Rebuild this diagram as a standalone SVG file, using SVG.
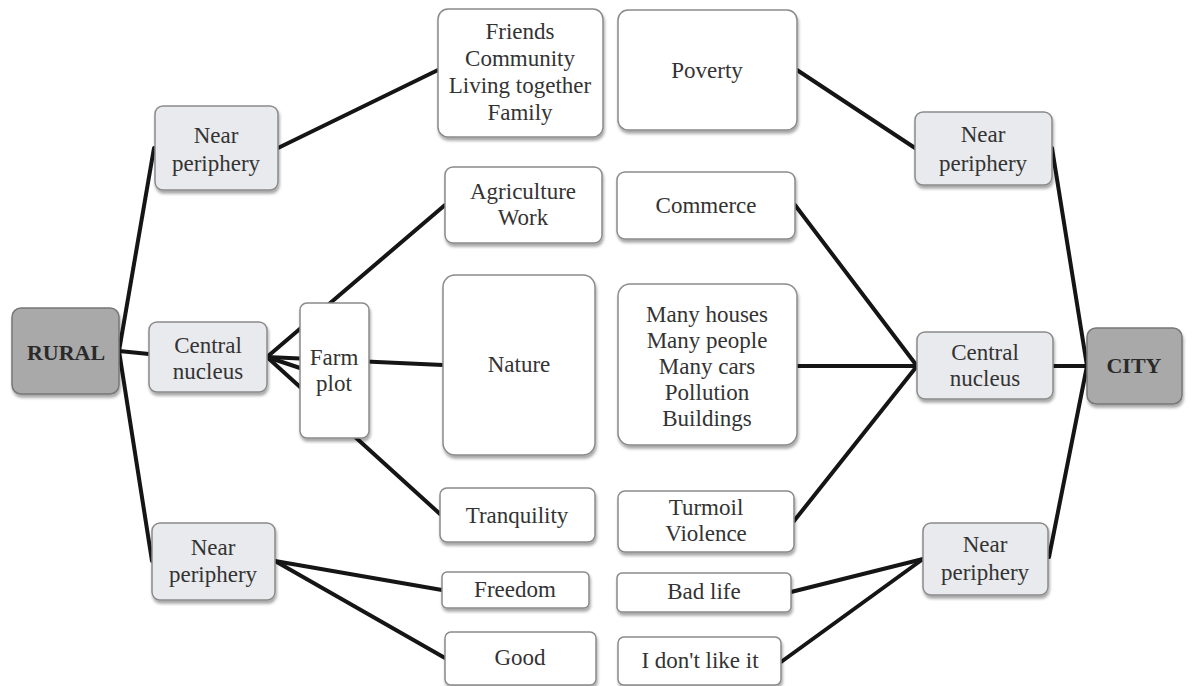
<svg xmlns="http://www.w3.org/2000/svg" width="1194" height="686" viewBox="0 0 1194 686" font-family="'Liberation Serif', 'DejaVu Serif', serif">
<defs>
<filter id="sh" x="-10%" y="-10%" width="130%" height="130%">
<feDropShadow dx="1" dy="3" stdDeviation="1.5" flood-color="#000" flood-opacity="0.35"/>
</filter>
<style>
.n rect{stroke:#8a8a8a;stroke-width:1.5;filter:url(#sh)}
.w rect{fill:#ffffff}
.g rect{fill:#e9eaed}
.d rect{fill:#a9a9a9;stroke:#777}
text{font-family:'Liberation Serif','DejaVu Serif',serif;font-size:23px;fill:#333;text-anchor:middle}
.b text{font-weight:bold;fill:#2a2a2a;font-size:22px}
#connectors line{stroke:#151515;stroke-width:4;stroke-linecap:round}
</style>
</defs>
<rect width="1194" height="686" fill="#ffffff"/>
<g id="connectors">
<line x1="119" y1="351" x2="154" y2="148"/>
<line x1="119" y1="351" x2="149" y2="354"/>
<line x1="119" y1="351" x2="152" y2="561"/>
<line x1="278" y1="148" x2="438" y2="70"/>
<line x1="267" y1="357" x2="445" y2="205"/>
<line x1="267" y1="357" x2="443" y2="365"/>
<line x1="267" y1="357" x2="300" y2="368"/>
<line x1="267" y1="357" x2="440" y2="514"/>
<line x1="275" y1="561" x2="442" y2="590"/>
<line x1="275" y1="561" x2="445" y2="658"/>
<line x1="797" y1="70" x2="915" y2="148"/>
<line x1="1052" y1="148" x2="1087" y2="366"/>
<line x1="795" y1="205" x2="917" y2="366"/>
<line x1="797" y1="366" x2="917" y2="366"/>
<line x1="794" y1="521" x2="917" y2="366"/>
<line x1="1053" y1="366" x2="1087" y2="366"/>
<line x1="1087" y1="366" x2="1049" y2="557"/>
<line x1="791" y1="592" x2="923" y2="559"/>
<line x1="781" y1="662" x2="923" y2="559"/>
</g>
<g id="rural" class="n d b"><rect x="12" y="308" width="107" height="86" rx="9"/><text x="66" y="360">RURAL</text></g>
<g id="city" class="n d b"><rect x="1087" y="328" width="95" height="76" rx="9"/><text x="1134" y="373">CITY</text></g>
<g id="rural-near-top" class="n g"><rect x="155" y="106" width="123" height="84" rx="8"/><text x="216" y="143">Near</text><text x="216" y="171">periphery</text></g>
<g id="rural-central" class="n g"><rect x="149" y="322" width="118" height="70" rx="8"/><text x="208" y="353">Central</text><text x="208" y="379">nucleus</text></g>
<g id="rural-near-bottom" class="n g"><rect x="152" y="523" width="123" height="77" rx="8"/><text x="213" y="555">Near</text><text x="213" y="582">periphery</text></g>
<g id="city-near-top" class="n g"><rect x="915" y="112" width="137" height="73" rx="8"/><text x="983" y="142">Near</text><text x="983" y="171">periphery</text></g>
<g id="city-central" class="n g"><rect x="917" y="332" width="136" height="67" rx="8"/><text x="985" y="360">Central</text><text x="985" y="386">nucleus</text></g>
<g id="city-near-bottom" class="n g"><rect x="923" y="523" width="125" height="72" rx="8"/><text x="985" y="552">Near</text><text x="985" y="580">periphery</text></g>
<g id="farm-plot" class="n w"><rect x="300" y="303" width="69" height="135" rx="7"/><text x="334" y="365">Farm</text><text x="334" y="391">plot</text></g>
<g id="friends" class="n w"><rect x="438" y="9" width="165" height="128" rx="10"/><text x="520" y="39">Friends</text><text x="520" y="66">Community</text><text x="520" y="93">Living together</text><text x="520" y="120">Family</text></g>
<g id="poverty" class="n w"><rect x="618" y="10" width="179" height="120" rx="10"/><text x="707" y="78">Poverty</text></g>
<g id="agriculture" class="n w"><rect x="445" y="167" width="157" height="76" rx="8"/><text x="523" y="199">Agriculture</text><text x="523" y="225">Work</text></g>
<g id="commerce" class="n w"><rect x="617" y="172" width="178" height="67" rx="8"/><text x="706" y="213">Commerce</text></g>
<g id="nature" class="n w"><rect x="443" y="275" width="152" height="180" rx="12"/><text x="519" y="372">Nature</text></g>
<g id="many" class="n w"><rect x="618" y="284" width="179" height="161" rx="12"/><text x="707" y="322">Many houses</text><text x="707" y="348">Many people</text><text x="707" y="374">Many cars</text><text x="707" y="400">Pollution</text><text x="707" y="426">Buildings</text></g>
<g id="tranquility" class="n w"><rect x="440" y="488" width="155" height="54" rx="7"/><text x="517" y="523">Tranquility</text></g>
<g id="turmoil" class="n w"><rect x="618" y="491" width="176" height="61" rx="7"/><text x="706" y="515">Turmoil</text><text x="706" y="541">Violence</text></g>
<g id="freedom" class="n w"><rect x="442" y="572" width="147" height="36" rx="5"/><text x="515" y="597">Freedom</text></g>
<g id="bad-life" class="n w"><rect x="617" y="573" width="174" height="39" rx="5"/><text x="704" y="599">Bad life</text></g>
<g id="good" class="n w"><rect x="445" y="632" width="151" height="53" rx="6"/><text x="520" y="665">Good</text></g>
<g id="dont-like" class="n w"><rect x="618" y="637" width="163" height="48" rx="6"/><text x="700" y="668">I don't like it</text></g>
</svg>
